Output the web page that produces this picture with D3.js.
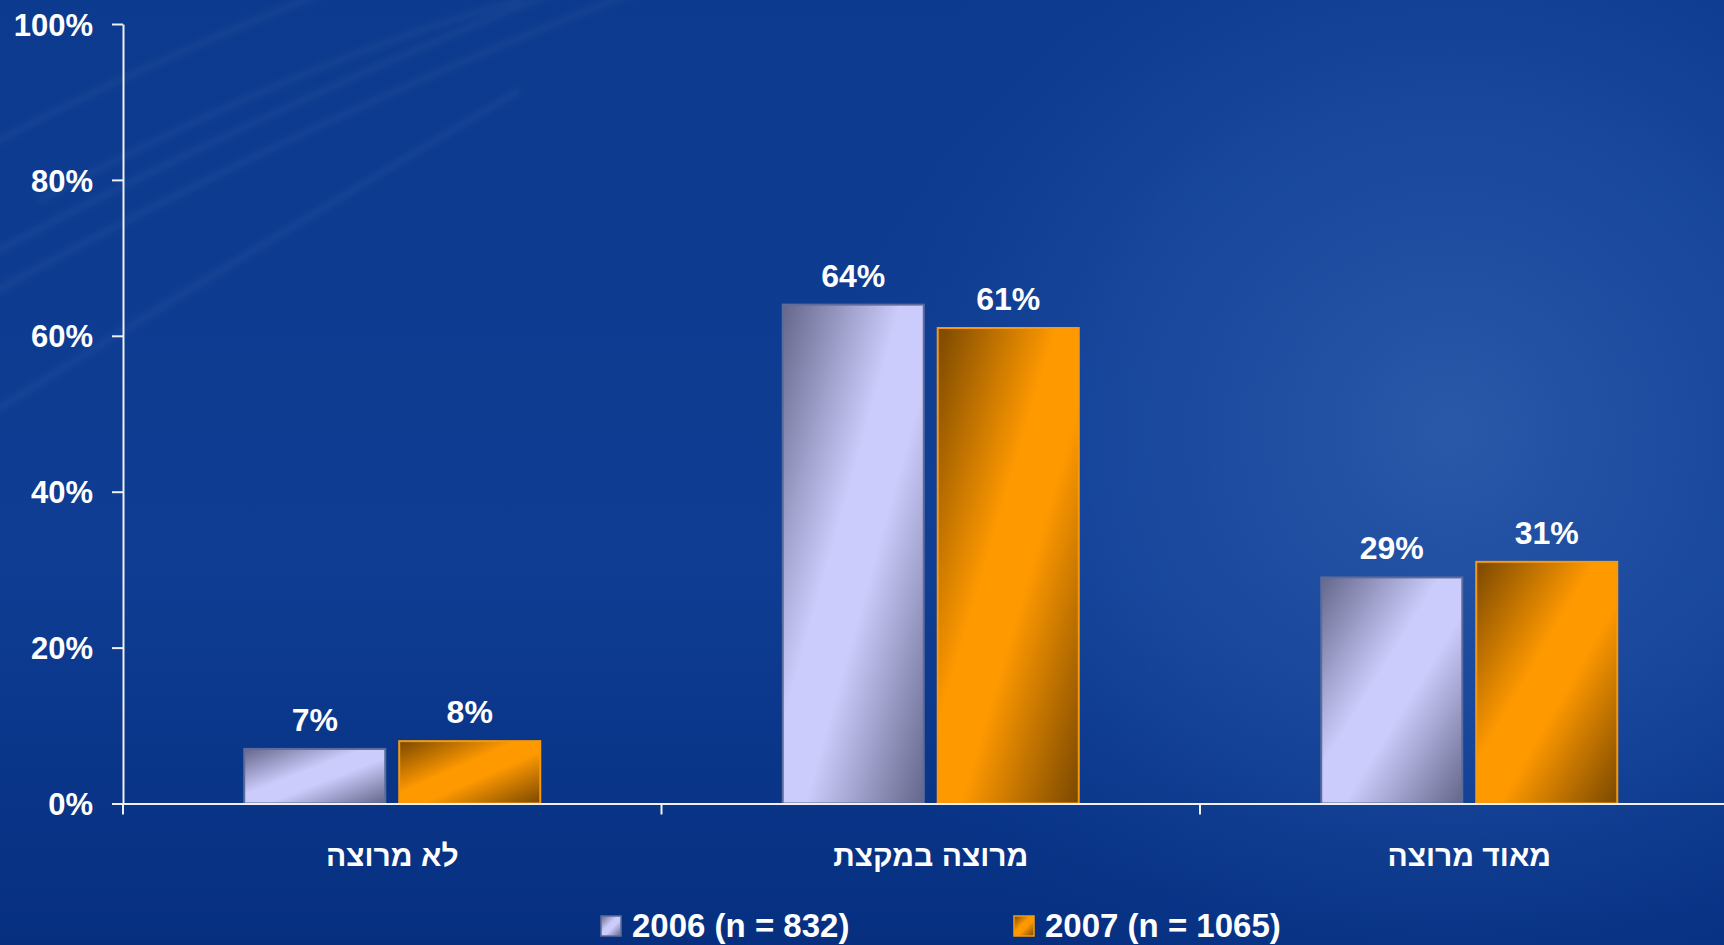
<!DOCTYPE html>
<html>
<head>
<meta charset="utf-8">
<script src="https://cdn.jsdelivr.net/npm/d3@7"></script>
<style>
  html, body { margin: 0; padding: 0; overflow: hidden; background: #0a3a8e; }
  svg text { font-family: "Liberation Sans", Arial, sans-serif; font-weight: bold; fill: #fff; }
</style>
</head>
<body>
<div id="chart"></div>
<script>
// data
var categories = ["לא מרוצה", "מרוצה במקצת", "מאוד מרוצה"];
var series = ["2006 (n = 832)", "2007 (n = 1065)"];
var values2006 = [7, 64, 29];
var values2007 = [8, 61, 31];
var yTicks = [0, 20, 40, 60, 80, 100];

var width = 1724, height = 945;

var svg = d3.select("#chart").append("svg")
    .attr("width", width)
    .attr("height", height);

var defs = svg.append("defs");

// background gradients
var bgLin = defs.append("linearGradient").attr("id", "bgLin")
    .attr("x1", 0).attr("y1", 0).attr("x2", 0).attr("y2", 1);
bgLin.append("stop").attr("offset", "0%").attr("stop-color", "#0c3a8e");
bgLin.append("stop").attr("offset", "60%").attr("stop-color", "#0e3d93");
bgLin.append("stop").attr("offset", "100%").attr("stop-color", "#062f80");

var bgRad = defs.append("radialGradient").attr("id", "bgRad")
    .attr("gradientUnits", "userSpaceOnUse")
    .attr("cx", 1450).attr("cy", 430).attr("r", 650);
bgRad.append("stop").attr("offset", "0%").attr("stop-color", "#2c5aaa").attr("stop-opacity", 0.95);
bgRad.append("stop").attr("offset", "55%").attr("stop-color", "#2050a5").attr("stop-opacity", 0.5);
bgRad.append("stop").attr("offset", "100%").attr("stop-color", "#0e3d93").attr("stop-opacity", 0);

defs.append("filter").attr("id", "blur")
    .append("feGaussianBlur").attr("stdDeviation", 3);

// bar gradients
function barGrad(id, dark, light) {
  var g = defs.append("linearGradient").attr("id", id)
      .attr("x1", 0).attr("y1", 0).attr("x2", 1).attr("y2", 1);
  g.append("stop").attr("offset", "0%").attr("stop-color", dark);
  g.append("stop").attr("offset", "42%").attr("stop-color", light);
  g.append("stop").attr("offset", "58%").attr("stop-color", light);
  g.append("stop").attr("offset", "100%").attr("stop-color", dark);
}
barGrad("g2006", "#64668a", "#ccccfc");
barGrad("g2007", "#7a4800", "#ff9900");
var fills = ["url(#g2006)", "url(#g2007)"];
var strokes = ["#5c6c9c", "#f59a10"];

svg.append("rect").attr("width", width).attr("height", height).attr("fill", "url(#bgLin)");
svg.append("rect").attr("width", width).attr("height", height).attr("fill", "url(#bgRad)");

// faint streaks in the background
var streaks = [
  "M-20,260 Q260,110 560,-10",
  "M-20,300 Q300,120 640,-10",
  "M-20,150 Q150,60 330,-10",
  "M-20,420 Q250,250 520,90",
  "M40,200 Q300,60 520,0"
];
svg.append("g").attr("filter", "url(#blur)")
  .selectAll("path").data(streaks).enter().append("path")
  .attr("d", function (d) { return d; })
  .attr("fill", "none")
  .attr("stroke", "#ffffff")
  .attr("stroke-opacity", 0.06)
  .attr("stroke-width", 5);

// scales
var x0 = 123, step = 538.5;
var x = d3.scaleBand().domain(categories).range([x0, x0 + step * categories.length]).padding(0);
var pairW = 296;
var xs = d3.scaleBand().domain(series).range([0, pairW]).paddingInner(0.09).paddingOuter(0);
var y = d3.scaleLinear().domain([0, 100]).range([803.5, 24]);

// y axis
var yAxis = svg.append("g")
    .attr("transform", "translate(" + x0 + ",0)")
    .call(d3.axisLeft(y).tickValues(yTicks).tickSize(11).tickSizeOuter(0)
      .tickFormat(function (d) { return d + "%"; }));
yAxis.selectAll("path, line").attr("stroke", "#f0f0f0").attr("stroke-width", 2);
yAxis.selectAll("text").attr("font-size", 31).attr("x", -30).attr("dy", "0.36em")
  .style("font-family", "Liberation Sans, Arial, sans-serif").style("font-weight", "bold").attr("fill", "#fff");

// bars
var rows = [];
categories.forEach(function (c, i) {
  rows.push({ cat: c, s: 0, v: values2006[i] });
  rows.push({ cat: c, s: 1, v: values2007[i] });
});
function barX(d) { return x(d.cat) + (x.bandwidth() - pairW) / 2 + xs(series[d.s]); }

svg.append("g").selectAll("rect").data(rows).enter().append("rect")
  .attr("x", barX)
  .attr("y", function (d) { return y(d.v); })
  .attr("width", xs.bandwidth())
  .attr("height", function (d) { return y(0) - y(d.v); })
  .attr("fill", function (d) { return fills[d.s]; })
  .attr("stroke", function (d) { return strokes[d.s]; })
  .attr("stroke-width", 2);

svg.append("g").selectAll("text").data(rows).enter().append("text")
  .attr("x", function (d) { return barX(d) + xs.bandwidth() / 2; })
  .attr("y", function (d) { return y(d.v) - 18; })
  .attr("text-anchor", "middle")
  .attr("font-size", 32)
  .text(function (d) { return d.v + "%"; });

// x axis
var xAxis = svg.append("g")
    .attr("transform", "translate(0," + y(0) + ")")
    .call(d3.axisBottom(x).tickSize(0).tickSizeOuter(0));
xAxis.select(".domain").attr("stroke", "#f0f0f0").attr("stroke-width", 2);
xAxis.selectAll("text").attr("font-size", 30).attr("dy", 0).attr("y", 62)
  .style("font-family", "Liberation Sans, Arial, sans-serif").style("font-weight", "bold").attr("fill", "#fff")
  .attr("direction", "rtl").attr("text-anchor", "middle");
xAxis.selectAll(".sep").data(d3.range(categories.length + 1)).enter().append("line")
  .attr("x1", function (i) { return x0 + i * x.step(); })
  .attr("x2", function (i) { return x0 + i * x.step(); })
  .attr("y1", 0).attr("y2", 11)
  .attr("stroke", "#f0f0f0").attr("stroke-width", 2);

// legend
var legendX = [601, 1014];
var legend = svg.append("g").selectAll("g").data(series).enter().append("g")
  .attr("transform", function (d, i) { return "translate(" + legendX[i] + ",916)"; });
legend.append("rect")
  .attr("width", 20).attr("height", 20)
  .attr("fill", function (d, i) { return fills[i]; })
  .attr("stroke", function (d, i) { return strokes[i]; })
  .attr("stroke-width", 1.5);
legend.append("text")
  .attr("x", 31).attr("y", 21)
  .attr("font-size", 33)
  .text(function (d) { return d; });
</script>
</body>
</html>
